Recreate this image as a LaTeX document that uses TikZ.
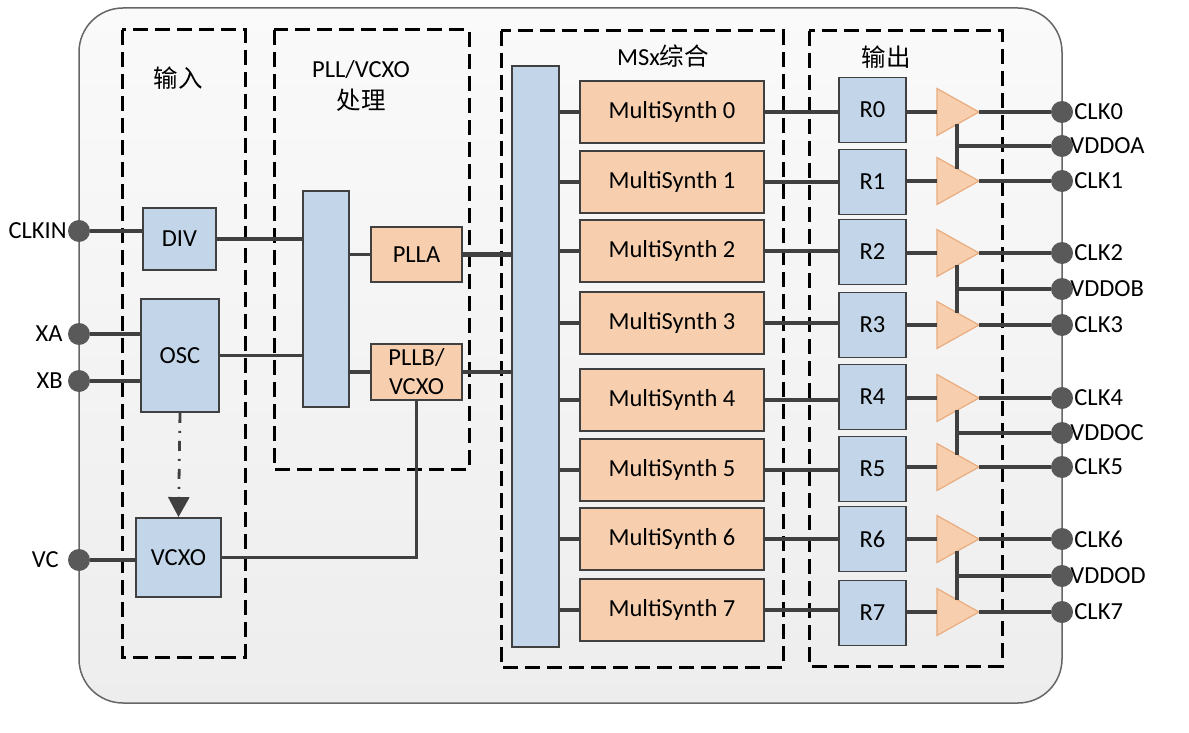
\documentclass[tikz,border=0pt]{standalone}
\usepackage{fontspec}
\setmainfont{Carlito}
\newfontfamily\cjk{Noto Sans CJK SC}
\usetikzlibrary{arrows.meta}
\definecolor{wire}{HTML}{404040}
\definecolor{padgray}{HTML}{595959}
\definecolor{blockblue}{HTML}{C3D5E8}
\definecolor{blockpeach}{HTML}{F8CFAE}
\definecolor{bufedge}{HTML}{E9AC7E}

\begin{document}
\begin{tikzpicture}[x=1pt, y=-1pt, font=\fontsize{24.5}{29}\selectfont,
    blkblue/.style={draw=wire, line width=1.8pt, fill=blockblue, inner sep=0pt},
    blkpeach/.style={draw=wire, line width=1.8pt, fill=blockpeach, inner sep=0pt},
    msblk/.style={blkpeach, minimum width=184pt, minimum height=62pt},
    rblk/.style={blkblue, minimum width=67pt, minimum height=65pt},
    buf/.style={minimum width=42pt, minimum height=47pt, inner sep=0pt, outer sep=0pt},
    buftri/.style={draw=bufedge, fill=blockpeach, line width=1.2pt, line join=miter},
    pad/.style={circle, fill=padgray, minimum size=22pt, inner sep=0pt},
    padlbl/.style={inner sep=1pt},
    groupbox/.style={draw=black, line width=3pt, dash pattern=on 15pt off 7pt},
    wireline/.style={draw=wire, line width=3.3pt}]
    \useasboundingbox (0,0) rectangle (1189,733);
    \draw[draw=black!60, line width=1.5pt, rounded corners=44pt, top color=white!98!black, bottom color=white!93!black] (79,8) rectangle (1062,703);

    \draw[groupbox] (122,30) rectangle (245,657);
    \draw[groupbox] (274,30) rectangle (469,469);
    \draw[groupbox] (501,31) rectangle (783,667);
    \draw[groupbox] (809,31) rectangle (1002,666);

    \node (tin) at (178,78) {\cjk 输入};
    \node (tpll) at (361,70) {PLL/VCXO};
    \node (tproc) at (361,100) {\cjk 处理};
    \node (tms) at (663,56) {MSx{\cjk 综合}};
    \node (tout) at (886,57) {\cjk 输出};

    \node[blkblue, minimum width=73pt, minimum height=62pt] (div) at (179.5,239) {DIV};
    \node[blkblue, minimum width=78pt, minimum height=113pt] (osc) at (180,355.5) {OSC};
    \node[blkblue, minimum width=85pt, minimum height=79pt] (vcxo) at (178.5,557.5) {VCXO};
    \node[blkblue, minimum width=46pt, minimum height=216pt] (muxp) at (326,299) {};
    \node[blkpeach, minimum width=91pt, minimum height=55pt] (plla) at (416.5,254.5) {PLLA};
    \node[blkpeach, minimum width=91pt, minimum height=56pt, align=center] (pllb) at (416.5,372) {PLLB/\\VCXO};
    \node[blkblue, minimum width=47pt, minimum height=581pt] (muxm) at (535.5,356.5) {};

    \node[msblk] (ms0) at (672,112) {MultiSynth 0};
    \node[msblk] (ms1) at (672,182) {MultiSynth 1};
    \node[msblk] (ms2) at (672,251) {MultiSynth 2};
    \node[msblk] (ms3) at (672,323) {MultiSynth 3};
    \node[msblk] (ms4) at (672,400) {MultiSynth 4};
    \node[msblk] (ms5) at (672,470) {MultiSynth 5};
    \node[msblk] (ms6) at (672,539) {MultiSynth 6};
    \node[msblk] (ms7) at (672,610) {MultiSynth 7};

    \node[rblk] (r0) at (872.5,110) {R0};
    \node[rblk] (r1) at (872.5,182) {R1};
    \node[rblk] (r2) at (872.5,252) {R2};
    \node[rblk] (r3) at (872.5,325) {R3};
    \node[rblk] (r4) at (872.5,397) {R4};
    \node[rblk] (r5) at (872.5,469) {R5};
    \node[rblk] (r6) at (872.5,539) {R6};
    \node[rblk] (r7) at (872.5,613) {R7};

    \node[buf] (b0) at (958,112) {};
    \node[buf] (b1) at (958,181) {};
    \node[buf] (b2) at (958,253) {};
    \node[buf] (b3) at (958,325) {};
    \node[buf] (b4) at (958,398) {};
    \node[buf] (b5) at (958,467) {};
    \node[buf] (b6) at (958,539) {};
    \node[buf] (b7) at (958,612) {};
    \draw[buftri] (b0.north west) -- (b0.east) -- (b0.south west) -- cycle;
    \draw[buftri] (b1.north west) -- (b1.east) -- (b1.south west) -- cycle;
    \draw[buftri] (b2.north west) -- (b2.east) -- (b2.south west) -- cycle;
    \draw[buftri] (b3.north west) -- (b3.east) -- (b3.south west) -- cycle;
    \draw[buftri] (b4.north west) -- (b4.east) -- (b4.south west) -- cycle;
    \draw[buftri] (b5.north west) -- (b5.east) -- (b5.south west) -- cycle;
    \draw[buftri] (b6.north west) -- (b6.east) -- (b6.south west) -- cycle;
    \draw[buftri] (b7.north west) -- (b7.east) -- (b7.south west) -- cycle;

    \node[pad] (clkin) at (79,231) {};
    \node[pad] (xa) at (79,334) {};
    \node[pad] (xb) at (79,381) {};
    \node[pad] (vc) at (79,560) {};
    \node[padlbl, anchor=east] (lclkin) at (clkin.west) {CLKIN};
    \node[padlbl, anchor=east] (lxa) at ([xshift=-4pt]xa.west) {XA};
    \node[padlbl, anchor=east] (lxb) at ([xshift=-4pt]xb.west) {XB};
    \node[padlbl, anchor=east] (lvc) at ([xshift=-8pt]vc.west) {VC};

    \node[pad] (clk0) at (1062,112) {};
    \node[pad] (vddoa) at (1062,146) {};
    \node[pad] (clk1) at (1062,181) {};
    \node[pad] (clk2) at (1062,253) {};
    \node[pad] (vddob) at (1062,289) {};
    \node[pad] (clk3) at (1062,325) {};
    \node[pad] (clk4) at (1062,398) {};
    \node[pad] (vddoc) at (1062,433) {};
    \node[pad] (clk5) at (1062,467) {};
    \node[pad] (clk6) at (1062,539) {};
    \node[pad] (vddod) at (1062,576) {};
    \node[pad] (clk7) at (1062,612) {};
    \node[padlbl, anchor=west] (lclk0) at (clk0.east) {CLK0};
    \node[padlbl, anchor=west] (lvddoa) at ([xshift=-4pt]vddoa.east) {VDDOA};
    \node[padlbl, anchor=west] (lclk1) at (clk1.east) {CLK1};
    \node[padlbl, anchor=west] (lclk2) at (clk2.east) {CLK2};
    \node[padlbl, anchor=west] (lvddob) at ([xshift=-4pt]vddob.east) {VDDOB};
    \node[padlbl, anchor=west] (lclk3) at (clk3.east) {CLK3};
    \node[padlbl, anchor=west] (lclk4) at (clk4.east) {CLK4};
    \node[padlbl, anchor=west] (lvddoc) at ([xshift=-4pt]vddoc.east) {VDDOC};
    \node[padlbl, anchor=west] (lclk5) at (clk5.east) {CLK5};
    \node[padlbl, anchor=west] (lclk6) at (clk6.east) {CLK6};
    \node[padlbl, anchor=west] (lvddod) at ([xshift=-4pt]vddod.east) {VDDOD};
    \node[padlbl, anchor=west] (lclk7) at (clk7.east) {CLK7};

    \draw[wireline] (clkin) -- (clkin -| div.west);
    \draw[wireline] (xa) -- (xa -| osc.west);
    \draw[wireline] (xb) -- (xb -| osc.west);
    \draw[wireline] (vc) -- (vc -| vcxo.west);
    \draw[wireline] (div.east) -- (div.east -| muxp.west);
    \draw[wireline] (osc.east) -- (osc.east -| muxp.west);
    \draw[wireline] (plla.west -| muxp.east) -- (plla.west);
    \draw[wireline] (pllb.west -| muxp.east) -- (pllb.west);
    \draw[wireline, line width=4.5pt] (plla.east) -- (plla.east -| muxm.west);
    \draw[wireline, line width=4.5pt] (pllb.east) -- (pllb.east -| muxm.west);
    \draw[wireline] (vcxo.east) -| (pllb.south);
    \draw[wireline, line width=2.8pt, dash pattern=on 10pt off 8pt on 2pt off 8pt, -{Triangle[width=21pt,length=20pt]}] (osc.south) -- (vcxo.north);

    \draw[wireline] (ms0.west -| muxm.east) -- (ms0.west);
    \draw[wireline] (ms1.west -| muxm.east) -- (ms1.west);
    \draw[wireline] (ms2.west -| muxm.east) -- (ms2.west);
    \draw[wireline] (ms3.west -| muxm.east) -- (ms3.west);
    \draw[wireline] (ms4.west -| muxm.east) -- (ms4.west);
    \draw[wireline] (ms5.west -| muxm.east) -- (ms5.west);
    \draw[wireline] (ms6.west -| muxm.east) -- (ms6.west);
    \draw[wireline] (ms7.west -| muxm.east) -- (ms7.west);

    \draw[wireline] (ms0.east) -- (ms0.east -| r0.west);
    \draw[wireline] (ms1.east) -- (ms1.east -| r1.west);
    \draw[wireline] (ms2.east) -- (ms2.east -| r2.west);
    \draw[wireline] (ms3.east) -- (ms3.east -| r3.west);
    \draw[wireline] (ms4.east) -- (ms4.east -| r4.west);
    \draw[wireline] (ms5.east) -- (ms5.east -| r5.west);
    \draw[wireline] (ms6.east) -- (ms6.east -| r6.west);
    \draw[wireline] (ms7.east) -- (ms7.east -| r7.west);

    \draw[wireline] (b0.west -| r0.east) -- (b0.west);
    \draw[wireline] (b1.west -| r1.east) -- (b1.west);
    \draw[wireline] (b2.west -| r2.east) -- (b2.west);
    \draw[wireline] (b3.west -| r3.east) -- (b3.west);
    \draw[wireline] (b4.west -| r4.east) -- (b4.west);
    \draw[wireline] (b5.west -| r5.east) -- (b5.west);
    \draw[wireline] (b6.west -| r6.east) -- (b6.west);
    \draw[wireline] (b7.west -| r7.east) -- (b7.west);

    \draw[wireline] (b0.east) -- (clk0);
    \draw[wireline] (b1.east) -- (clk1);
    \draw[wireline] (b2.east) -- (clk2);
    \draw[wireline] (b3.east) -- (clk3);
    \draw[wireline] (b4.east) -- (clk4);
    \draw[wireline] (b5.east) -- (clk5);
    \draw[wireline] (b6.east) -- (clk6);
    \draw[wireline] (b7.east) -- (clk7);

    \draw[wireline] ([xshift=-1pt,yshift=-12pt]b0.center) -- ([xshift=-1pt,yshift=12pt]b1.center);
    \draw[wireline] ([xshift=-1pt,yshift=-12pt]b2.center) -- ([xshift=-1pt,yshift=12pt]b3.center);
    \draw[wireline] ([xshift=-1pt,yshift=-12pt]b4.center) -- ([xshift=-1pt,yshift=12pt]b5.center);
    \draw[wireline] ([xshift=-1pt,yshift=-12pt]b6.center) -- ([xshift=-1pt,yshift=12pt]b7.center);
    \draw[wireline] ([xshift=-1pt]vddoa -| b0.center) -- (vddoa);
    \draw[wireline] ([xshift=-1pt]vddob -| b2.center) -- (vddob);
    \draw[wireline] ([xshift=-1pt]vddoc -| b4.center) -- (vddoc);
    \draw[wireline] ([xshift=-1pt]vddod -| b6.center) -- (vddod);
\end{tikzpicture}
\end{document}
